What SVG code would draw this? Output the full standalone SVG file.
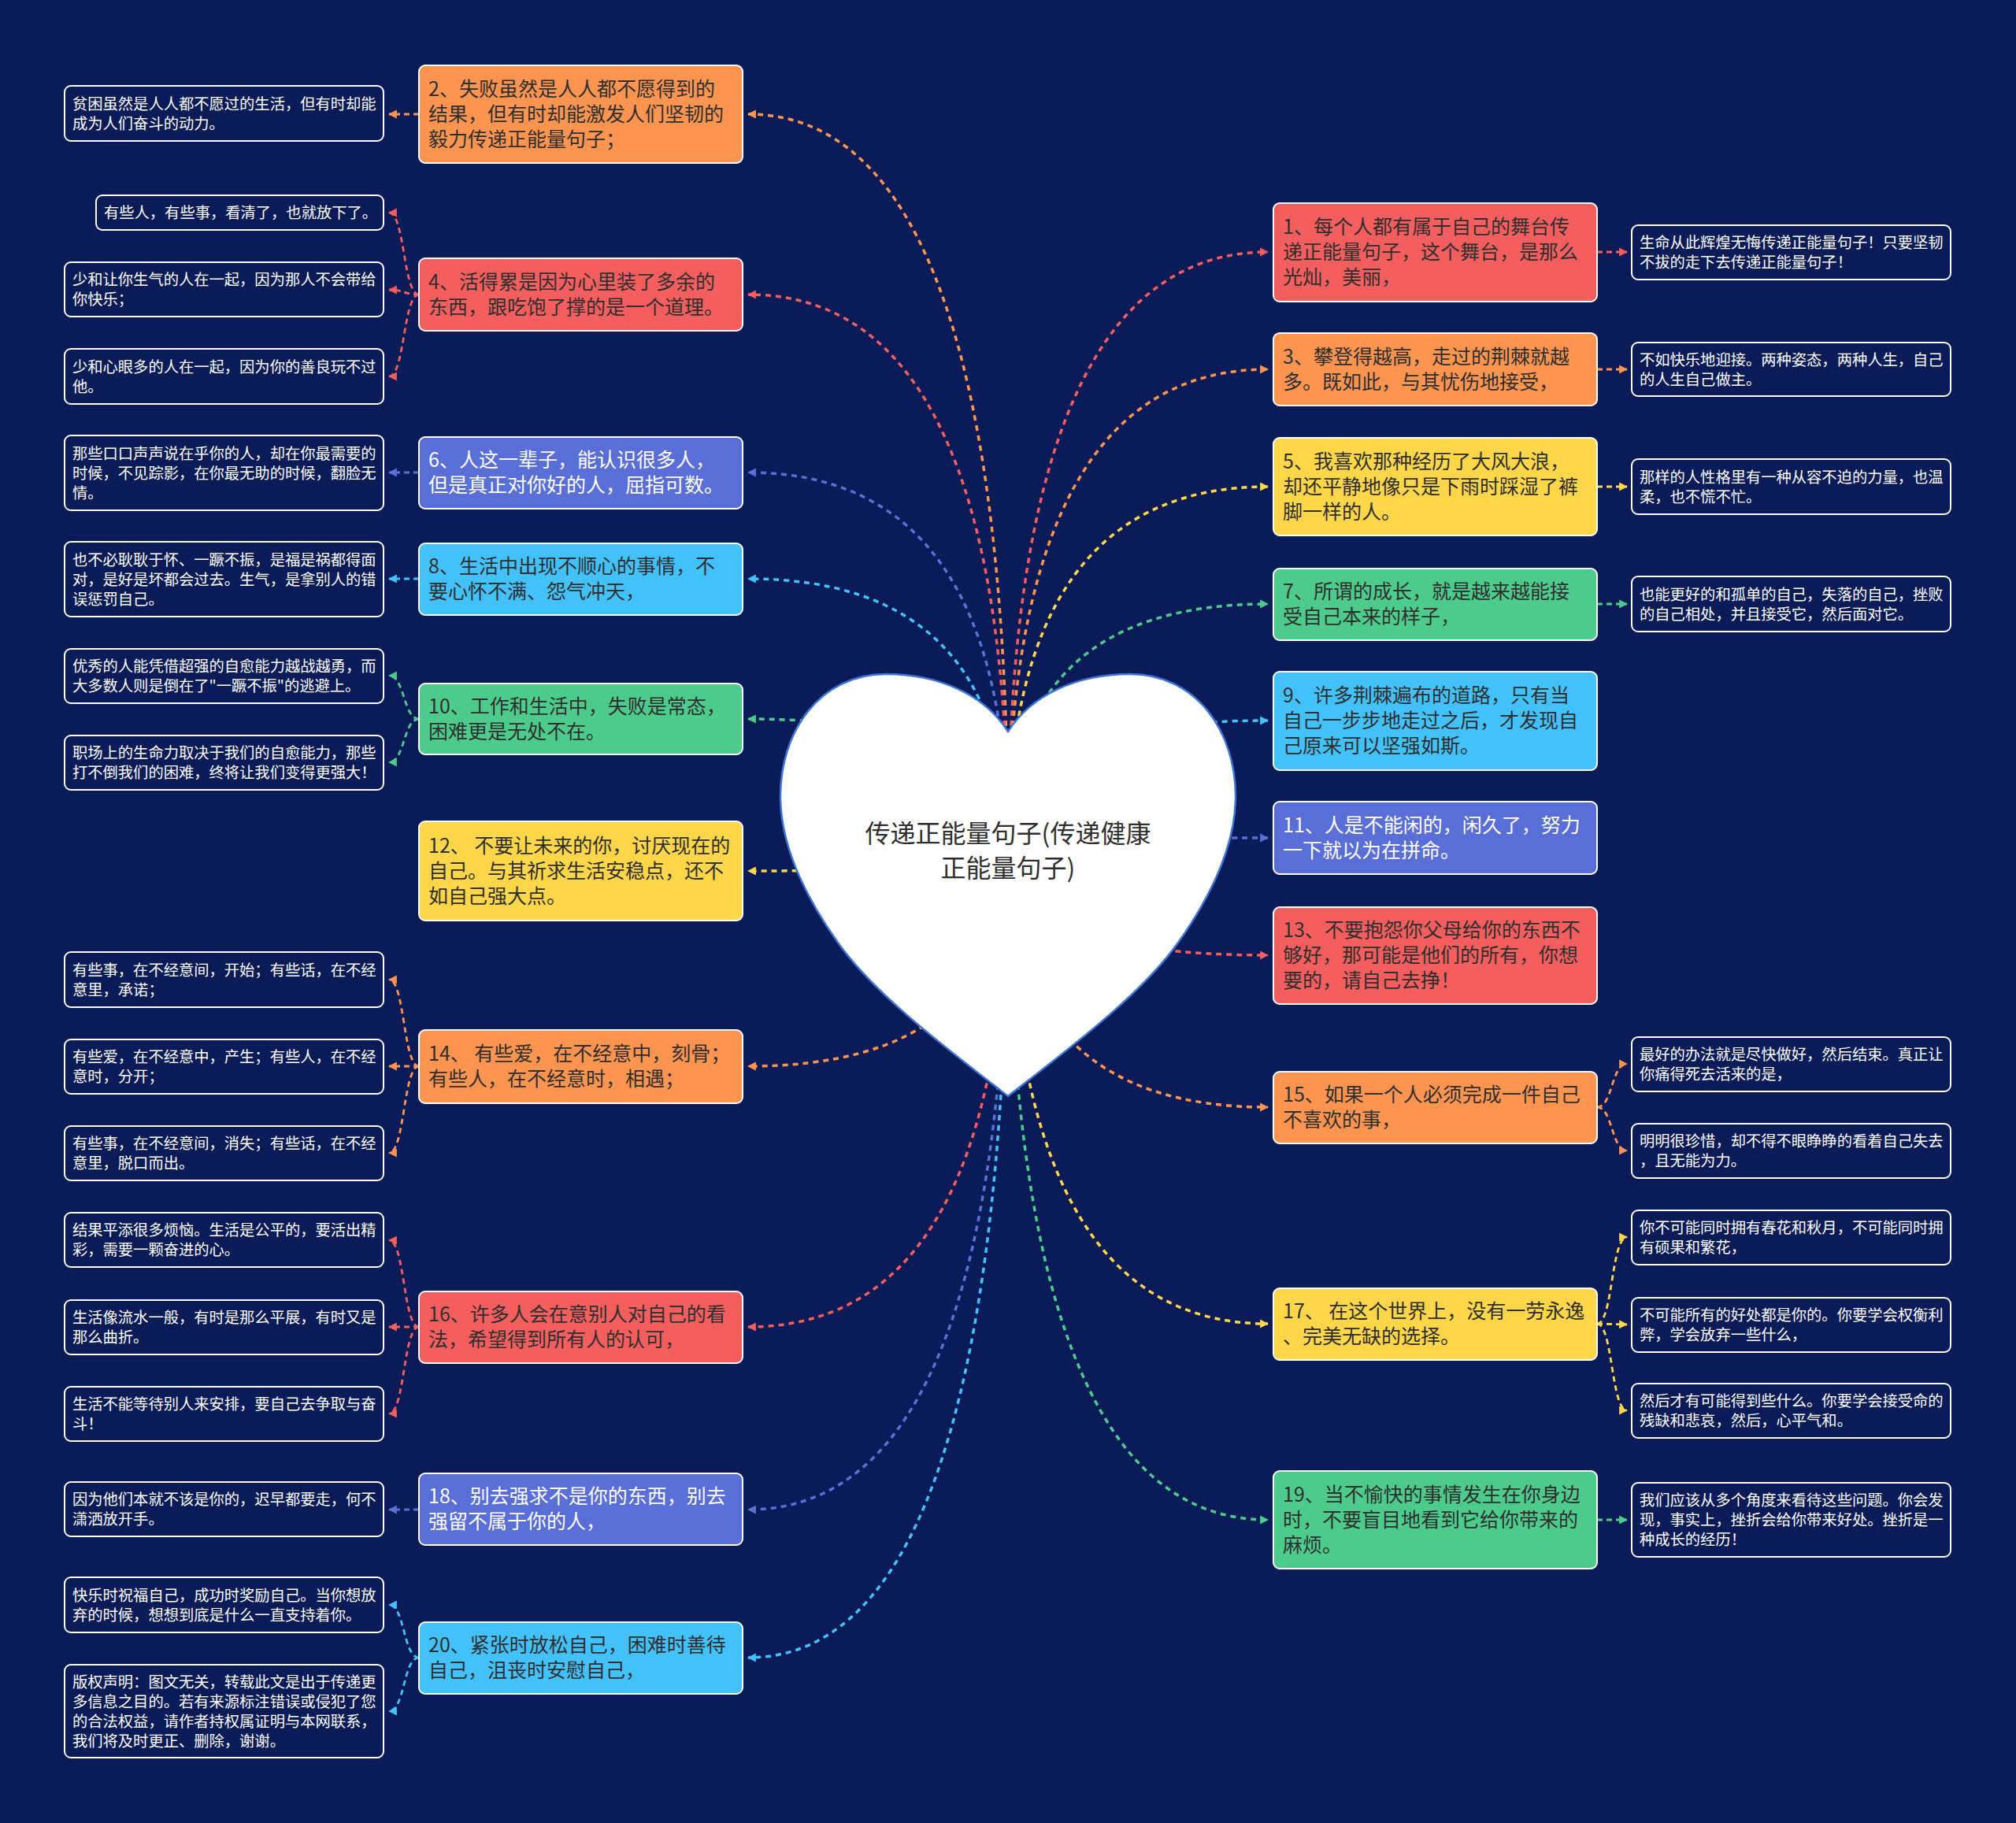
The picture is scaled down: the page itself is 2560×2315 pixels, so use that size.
<svg xmlns="http://www.w3.org/2000/svg" width="2560" height="2315" viewBox="0 0 2560 2315">
<style>
text{font-family:"Noto Sans CJK SC","Microsoft YaHei",sans-serif}
.mn{font-size:25px;fill:#2f2f2f}
.mw{font-size:25px;fill:#ffffff}
.lf{font-size:19.3px;fill:#ffffff}
.box{stroke:#ffffff;stroke-width:2}
.leaf rect{fill:#0a1b57;stroke:#ffffff;stroke-width:2}
.c{fill:none;stroke-width:3.5;stroke-dasharray:7 6}
.lc{fill:none;stroke-width:2.8;stroke-dasharray:7 5}
.red{stroke:#f45e5e}.ora{stroke:#fd9550}.yel{stroke:#fdd64a}.gre{stroke:#4dcb8c}.lbl{stroke:#43c1fb}.blu{stroke:#5a6ed7}
</style>
<defs>
<marker id="m-red" viewBox="0 0 10 10" refX="9" refY="5" markerWidth="11" markerHeight="12" markerUnits="userSpaceOnUse" orient="auto"><path d="M0,0L10,5L0,10z" fill="#f45e5e"/></marker>
<marker id="m-ora" viewBox="0 0 10 10" refX="9" refY="5" markerWidth="11" markerHeight="12" markerUnits="userSpaceOnUse" orient="auto"><path d="M0,0L10,5L0,10z" fill="#fd9550"/></marker>
<marker id="m-yel" viewBox="0 0 10 10" refX="9" refY="5" markerWidth="11" markerHeight="12" markerUnits="userSpaceOnUse" orient="auto"><path d="M0,0L10,5L0,10z" fill="#fdd64a"/></marker>
<marker id="m-gre" viewBox="0 0 10 10" refX="9" refY="5" markerWidth="11" markerHeight="12" markerUnits="userSpaceOnUse" orient="auto"><path d="M0,0L10,5L0,10z" fill="#4dcb8c"/></marker>
<marker id="m-lbl" viewBox="0 0 10 10" refX="9" refY="5" markerWidth="11" markerHeight="12" markerUnits="userSpaceOnUse" orient="auto"><path d="M0,0L10,5L0,10z" fill="#43c1fb"/></marker>
<marker id="m-blu" viewBox="0 0 10 10" refX="9" refY="5" markerWidth="11" markerHeight="12" markerUnits="userSpaceOnUse" orient="auto"><path d="M0,0L10,5L0,10z" fill="#5a6ed7"/></marker>
</defs>
<rect x="0" y="0" width="2560" height="2315" fill="#0a1b57"/>

<g id="connectors">
<path class="c ora" marker-end="url(#m-ora)" d="M1280 1078 Q1280 145 950 145"/>
<path class="c red" marker-end="url(#m-red)" d="M1280 1078 Q1280 374 950 374"/>
<path class="c blu" marker-end="url(#m-blu)" d="M1280 1078 Q1280 600 950 600"/>
<path class="c lbl" marker-end="url(#m-lbl)" d="M1280 1078 Q1280 735 950 735"/>
<path class="c gre" marker-end="url(#m-gre)" d="M1280 1078 Q1280 913 950 913"/>
<path class="c yel" marker-end="url(#m-yel)" d="M1280 1078 Q1280 1106 950 1106"/>
<path class="c ora" marker-end="url(#m-ora)" d="M1280 1078 Q1280 1354 950 1354"/>
<path class="c red" marker-end="url(#m-red)" d="M1280 1078 Q1280 1685 950 1685"/>
<path class="c blu" marker-end="url(#m-blu)" d="M1280 1078 Q1280 1917 950 1917"/>
<path class="c lbl" marker-end="url(#m-lbl)" d="M1280 1078 Q1280 2105 950 2105"/>
<path class="c red" marker-end="url(#m-red)" d="M1280 1078 Q1280 320 1610 320"/>
<path class="c ora" marker-end="url(#m-ora)" d="M1280 1078 Q1280 469 1610 469"/>
<path class="c yel" marker-end="url(#m-yel)" d="M1280 1078 Q1280 618 1610 618"/>
<path class="c gre" marker-end="url(#m-gre)" d="M1280 1078 Q1280 767 1610 767"/>
<path class="c lbl" marker-end="url(#m-lbl)" d="M1280 1078 Q1280 915 1610 915"/>
<path class="c blu" marker-end="url(#m-blu)" d="M1280 1078 Q1280 1064 1610 1064"/>
<path class="c red" marker-end="url(#m-red)" d="M1280 1078 Q1280 1213 1610 1213"/>
<path class="c ora" marker-end="url(#m-ora)" d="M1280 1078 Q1280 1406 1610 1406"/>
<path class="c yel" marker-end="url(#m-yel)" d="M1280 1078 Q1280 1681 1610 1681"/>
<path class="c gre" marker-end="url(#m-gre)" d="M1280 1078 Q1280 1930 1610 1930"/>
<path class="lc ora" marker-end="url(#m-ora)" d="M532 145 L494 145"/>
<path class="lc red" marker-end="url(#m-red)" d="M532 374 C512 374 514 270 494 270"/>
<path class="lc red" marker-end="url(#m-red)" d="M532 374 C512 374 514 368 494 368"/>
<path class="lc red" marker-end="url(#m-red)" d="M532 374 C512 374 514 478 494 478"/>
<path class="lc blu" marker-end="url(#m-blu)" d="M532 600 L494 600"/>
<path class="lc lbl" marker-end="url(#m-lbl)" d="M532 735 L494 735"/>
<path class="lc gre" marker-end="url(#m-gre)" d="M532 913 C512 913 514 858 494 858"/>
<path class="lc gre" marker-end="url(#m-gre)" d="M532 913 C512 913 514 968 494 968"/>
<path class="lc ora" marker-end="url(#m-ora)" d="M532 1354 C512 1354 514 1244 494 1244"/>
<path class="lc ora" marker-end="url(#m-ora)" d="M532 1354 L494 1354"/>
<path class="lc ora" marker-end="url(#m-ora)" d="M532 1354 C512 1354 514 1464 494 1464"/>
<path class="lc red" marker-end="url(#m-red)" d="M532 1685 C512 1685 514 1575 494 1575"/>
<path class="lc red" marker-end="url(#m-red)" d="M532 1685 L494 1685"/>
<path class="lc red" marker-end="url(#m-red)" d="M532 1685 C512 1685 514 1795 494 1795"/>
<path class="lc blu" marker-end="url(#m-blu)" d="M532 1917 L494 1917"/>
<path class="lc lbl" marker-end="url(#m-lbl)" d="M532 2105 C512 2105 514 2038 494 2038"/>
<path class="lc lbl" marker-end="url(#m-lbl)" d="M532 2105 C512 2105 514 2173 494 2173"/>
<path class="lc red" marker-end="url(#m-red)" d="M2028 320 L2066 320"/>
<path class="lc ora" marker-end="url(#m-ora)" d="M2028 469 L2066 469"/>
<path class="lc yel" marker-end="url(#m-yel)" d="M2028 618 L2066 618"/>
<path class="lc gre" marker-end="url(#m-gre)" d="M2028 767 L2066 767"/>
<path class="lc ora" marker-end="url(#m-ora)" d="M2028 1406 C2048 1406 2046 1351 2066 1351"/>
<path class="lc ora" marker-end="url(#m-ora)" d="M2028 1406 C2048 1406 2046 1461 2066 1461"/>
<path class="lc yel" marker-end="url(#m-yel)" d="M2028 1681 C2048 1681 2046 1571 2066 1571"/>
<path class="lc yel" marker-end="url(#m-yel)" d="M2028 1681 L2066 1682"/>
<path class="lc yel" marker-end="url(#m-yel)" d="M2028 1681 C2048 1681 2046 1791 2066 1791"/>
<path class="lc gre" marker-end="url(#m-gre)" d="M2028 1930 L2066 1930"/>
</g>

<g id="root">
<path d="M1280 929 C1250 882 1192 856 1125 856 C1040 856 991 930 991 1011 C991 1070 1020 1135 1064 1197 C1110 1262 1200 1330 1280 1392 C1360 1330 1450 1262 1496 1197 C1540 1135 1569 1070 1569 1011 C1569 930 1520 856 1435 856 C1368 856 1310 882 1280 929 Z" fill="#ffffff" stroke="#3f74d6" stroke-width="2.5"/>
<text x="1280" y="1070" text-anchor="middle" style="font-size:32px;fill:#2f2f2f">传递正能量句子(传递健康</text>
<text x="1280" y="1114" text-anchor="middle" style="font-size:32px;fill:#2f2f2f">正能量句子)</text>
</g>

<g id="n2"><rect class="box" x="532" y="83" width="411" height="124" rx="8" fill="#fd9550"/>
<text class="mn" x="544" y="122">2、失败虽然是人人都不愿得到的</text><text class="mn" x="544" y="154">结果，但有时却能激发人们坚韧的</text><text class="mn" x="544" y="186">毅力传递正能量句子；</text></g>
<g id="n4"><rect class="box" x="532" y="328" width="411" height="92" rx="8" fill="#f45e5e"/>
<text class="mn" x="544" y="367">4、活得累是因为心里装了多余的</text><text class="mn" x="544" y="399">东西，跟吃饱了撑的是一个道理。</text></g>
<g id="n6"><rect class="box" x="532" y="555" width="411" height="91" rx="8" fill="#5a6ed7"/>
<text class="mw" x="544" y="593">6、人这一辈子，能认识很多人，</text><text class="mw" x="544" y="625">但是真正对你好的人，屈指可数。</text></g>
<g id="n8"><rect class="box" x="532" y="690" width="411" height="91" rx="8" fill="#43c1fb"/>
<text class="mn" x="544" y="728">8、生活中出现不顺心的事情，不</text><text class="mn" x="544" y="760">要心怀不满、怨气冲天，</text></g>
<g id="n10"><rect class="box" x="532" y="868" width="411" height="90" rx="8" fill="#4dcb8c"/>
<text class="mn" x="544" y="906">10、工作和生活中，失败是常态，</text><text class="mn" x="544" y="938">困难更是无处不在。</text></g>
<g id="n12"><rect class="box" x="532" y="1043" width="411" height="126" rx="8" fill="#fdd64a"/>
<text class="mn" x="544" y="1083">12、 不要让未来的你，讨厌现在的</text><text class="mn" x="544" y="1115">自己。与其祈求生活安稳点，还不</text><text class="mn" x="544" y="1147">如自己强大点。</text></g>
<g id="n14"><rect class="box" x="532" y="1308" width="411" height="93" rx="8" fill="#fd9550"/>
<text class="mn" x="544" y="1347">14、 有些爱，在不经意中，刻骨；</text><text class="mn" x="544" y="1379">有些人，在不经意时，相遇；</text></g>
<g id="n16"><rect class="box" x="532" y="1640" width="411" height="91" rx="8" fill="#f45e5e"/>
<text class="mn" x="544" y="1678">16、许多人会在意别人对自己的看</text><text class="mn" x="544" y="1710">法，希望得到所有人的认可，</text></g>
<g id="n18"><rect class="box" x="532" y="1871" width="411" height="91" rx="8" fill="#5a6ed7"/>
<text class="mw" x="544" y="1909">18、别去强求不是你的东西，别去</text><text class="mw" x="544" y="1941">强留不属于你的人，</text></g>
<g id="n20"><rect class="box" x="532" y="2060" width="411" height="91" rx="8" fill="#43c1fb"/>
<text class="mn" x="544" y="2098">20、紧张时放松自己，困难时善待</text><text class="mn" x="544" y="2130">自己，沮丧时安慰自己，</text></g>

<g id="n1"><rect class="box" x="1617" y="258" width="411" height="125" rx="8" fill="#f45e5e"/>
<text class="mn" x="1629" y="297">1、每个人都有属于自己的舞台传</text><text class="mn" x="1629" y="329">递正能量句子，这个舞台，是那么</text><text class="mn" x="1629" y="361">光灿，美丽，</text></g>
<g id="n3"><rect class="box" x="1617" y="423" width="411" height="92" rx="8" fill="#fd9550"/>
<text class="mn" x="1629" y="462">3、攀登得越高，走过的荆棘就越</text><text class="mn" x="1629" y="494">多。既如此，与其忧伤地接受，</text></g>
<g id="n5"><rect class="box" x="1617" y="556" width="411" height="124" rx="8" fill="#fdd64a"/>
<text class="mn" x="1629" y="595">5、我喜欢那种经历了大风大浪，</text><text class="mn" x="1629" y="627">却还平静地像只是下雨时踩湿了裤</text><text class="mn" x="1629" y="659">脚一样的人。</text></g>
<g id="n7"><rect class="box" x="1617" y="722" width="411" height="91" rx="8" fill="#4dcb8c"/>
<text class="mn" x="1629" y="760">7、所谓的成长，就是越来越能接</text><text class="mn" x="1629" y="792">受自己本来的样子，</text></g>
<g id="n9"><rect class="box" x="1617" y="853" width="411" height="125" rx="8" fill="#43c1fb"/>
<text class="mn" x="1629" y="892">9、许多荆棘遍布的道路，只有当</text><text class="mn" x="1629" y="924">自己一步步地走过之后，才发现自</text><text class="mn" x="1629" y="956">己原来可以坚强如斯。</text></g>
<g id="n11"><rect class="box" x="1617" y="1018" width="411" height="92" rx="8" fill="#5a6ed7"/>
<text class="mw" x="1629" y="1057">11、人是不能闲的，闲久了，努力</text><text class="mw" x="1629" y="1089">一下就以为在拼命。</text></g>
<g id="n13"><rect class="box" x="1617" y="1152" width="411" height="123" rx="8" fill="#f45e5e"/>
<text class="mn" x="1629" y="1190">13、不要抱怨你父母给你的东西不</text><text class="mn" x="1629" y="1222">够好，那可能是他们的所有，你想</text><text class="mn" x="1629" y="1254">要的，请自己去挣！</text></g>
<g id="n15"><rect class="box" x="1617" y="1361" width="411" height="91" rx="8" fill="#fd9550"/>
<text class="mn" x="1629" y="1399">15、如果一个人必须完成一件自己</text><text class="mn" x="1629" y="1431">不喜欢的事，</text></g>
<g id="n17"><rect class="box" x="1617" y="1636" width="411" height="91" rx="8" fill="#fdd64a"/>
<text class="mn" x="1629" y="1674">17、 在这个世界上，没有一劳永逸</text><text class="mn" x="1629" y="1706">、完美无缺的选择。</text></g>
<g id="n19"><rect class="box" x="1617" y="1868" width="411" height="124" rx="8" fill="#4dcb8c"/>
<text class="mn" x="1629" y="1907">19、当不愉快的事情发生在你身边</text><text class="mn" x="1629" y="1939">时，不要盲目地看到它给你带来的</text><text class="mn" x="1629" y="1971">麻烦。</text></g>

<g id="l2" class="leaf"><rect x="82" y="109" width="405" height="70" rx="8"/>
<text class="lf" x="92" y="138.5">贫困虽然是人人都不愿过的生活，但有时却能</text><text class="lf" x="92" y="163.5">成为人们奋斗的动力。</text></g>
<g id="l4a" class="leaf"><rect x="122" y="248" width="365" height="44" rx="8"/>
<text class="lf" x="132" y="277">有些人，有些事，看清了，也就放下了。</text></g>
<g id="l4b" class="leaf"><rect x="82" y="333" width="405" height="69" rx="8"/>
<text class="lf" x="92" y="362">少和让你生气的人在一起，因为那人不会带给</text><text class="lf" x="92" y="387">你快乐；</text></g>
<g id="l4c" class="leaf"><rect x="82" y="443" width="405" height="70" rx="8"/>
<text class="lf" x="92" y="472.5">少和心眼多的人在一起，因为你的善良玩不过</text><text class="lf" x="92" y="497.5">他。</text></g>
<g id="l6" class="leaf"><rect x="82" y="553" width="405" height="95" rx="8"/>
<text class="lf" x="92" y="582.5">那些口口声声说在乎你的人，却在你最需要的</text><text class="lf" x="92" y="607.5">时候，不见踪影，在你最无助的时候，翻脸无</text><text class="lf" x="92" y="632.5">情。</text></g>
<g id="l8" class="leaf"><rect x="82" y="688" width="405" height="95" rx="8"/>
<text class="lf" x="92" y="717.5">也不必耿耿于怀、一蹶不振，是福是祸都得面</text><text class="lf" x="92" y="742.5">对，是好是坏都会过去。生气，是拿别人的错</text><text class="lf" x="92" y="767.5">误惩罚自己。</text></g>
<g id="l10a" class="leaf"><rect x="82" y="824" width="405" height="69" rx="8"/>
<text class="lf" x="92" y="853">优秀的人能凭借超强的自愈能力越战越勇，而</text><text class="lf" x="92" y="878">大多数人则是倒在了"一蹶不振"的逃避上。</text></g>
<g id="l10b" class="leaf"><rect x="82" y="934" width="405" height="69" rx="8"/>
<text class="lf" x="92" y="963">职场上的生命力取决于我们的自愈能力，那些</text><text class="lf" x="92" y="988">打不倒我们的困难，终将让我们变得更强大！</text></g>
<g id="l14a" class="leaf"><rect x="82" y="1209" width="405" height="70" rx="8"/>
<text class="lf" x="92" y="1238.5">有些事，在不经意间，开始；有些话，在不经</text><text class="lf" x="92" y="1263.5">意里，承诺；</text></g>
<g id="l14b" class="leaf"><rect x="82" y="1320" width="405" height="69" rx="8"/>
<text class="lf" x="92" y="1349">有些爱，在不经意中，产生；有些人，在不经</text><text class="lf" x="92" y="1374">意时，分开；</text></g>
<g id="l14c" class="leaf"><rect x="82" y="1430" width="405" height="69" rx="8"/>
<text class="lf" x="92" y="1459">有些事，在不经意间，消失；有些话，在不经</text><text class="lf" x="92" y="1484">意里，脱口而出。</text></g>
<g id="l16a" class="leaf"><rect x="82" y="1540" width="405" height="69" rx="8"/>
<text class="lf" x="92" y="1569">结果平添很多烦恼。生活是公平的，要活出精</text><text class="lf" x="92" y="1594">彩，需要一颗奋进的心。</text></g>
<g id="l16b" class="leaf"><rect x="82" y="1651" width="405" height="69" rx="8"/>
<text class="lf" x="92" y="1680">生活像流水一般，有时是那么平展，有时又是</text><text class="lf" x="92" y="1705">那么曲折。</text></g>
<g id="l16c" class="leaf"><rect x="82" y="1761" width="405" height="69" rx="8"/>
<text class="lf" x="92" y="1790">生活不能等待别人来安排，要自己去争取与奋</text><text class="lf" x="92" y="1815">斗！</text></g>
<g id="l18" class="leaf"><rect x="82" y="1882" width="405" height="69" rx="8"/>
<text class="lf" x="92" y="1911">因为他们本就不该是你的，迟早都要走，何不</text><text class="lf" x="92" y="1936">潇洒放开手。</text></g>
<g id="l20a" class="leaf"><rect x="82" y="2003" width="405" height="70" rx="8"/>
<text class="lf" x="92" y="2032.5">快乐时祝福自己，成功时奖励自己。当你想放</text><text class="lf" x="92" y="2057.5">弃的时候，想想到底是什么一直支持着你。</text></g>
<g id="l20b" class="leaf"><rect x="82" y="2114" width="405" height="118" rx="8"/>
<text class="lf" x="92" y="2142.5">版权声明：图文无关，转载此文是出于传递更</text><text class="lf" x="92" y="2167.5">多信息之目的。若有来源标注错误或侵犯了您</text><text class="lf" x="92" y="2192.5">的合法权益，请作者持权属证明与本网联系，</text><text class="lf" x="92" y="2217.5">我们将及时更正、删除，谢谢。</text></g>

<g id="r1" class="leaf"><rect x="2072" y="286" width="405" height="69" rx="8"/>
<text class="lf" x="2082" y="315">生命从此辉煌无悔传递正能量句子！只要坚韧</text><text class="lf" x="2082" y="340">不拔的走下去传递正能量句子！</text></g>
<g id="r3" class="leaf"><rect x="2072" y="435" width="405" height="68" rx="8"/>
<text class="lf" x="2082" y="463.5">不如快乐地迎接。两种姿态，两种人生，自己</text><text class="lf" x="2082" y="488.5">的人生自己做主。</text></g>
<g id="r5" class="leaf"><rect x="2072" y="583" width="405" height="70" rx="8"/>
<text class="lf" x="2082" y="612.5">那样的人性格里有一种从容不迫的力量，也温</text><text class="lf" x="2082" y="637.5">柔，也不慌不忙。</text></g>
<g id="r7" class="leaf"><rect x="2072" y="732" width="405" height="70" rx="8"/>
<text class="lf" x="2082" y="761.5">也能更好的和孤单的自己，失落的自己，挫败</text><text class="lf" x="2082" y="786.5">的自己相处，并且接受它，然后面对它。</text></g>
<g id="r15a" class="leaf"><rect x="2072" y="1317" width="405" height="69" rx="8"/>
<text class="lf" x="2082" y="1346">最好的办法就是尽快做好，然后结束。真正让</text><text class="lf" x="2082" y="1371">你痛得死去活来的是，</text></g>
<g id="r15b" class="leaf"><rect x="2072" y="1427" width="405" height="69" rx="8"/>
<text class="lf" x="2082" y="1456">明明很珍惜，却不得不眼睁睁的看着自己失去</text><text class="lf" x="2082" y="1481">，且无能为力。</text></g>
<g id="r17a" class="leaf"><rect x="2072" y="1537" width="405" height="69" rx="8"/>
<text class="lf" x="2082" y="1566">你不可能同时拥有春花和秋月，不可能同时拥</text><text class="lf" x="2082" y="1591">有硕果和繁花，</text></g>
<g id="r17b" class="leaf"><rect x="2072" y="1648" width="405" height="69" rx="8"/>
<text class="lf" x="2082" y="1677">不可能所有的好处都是你的。你要学会权衡利</text><text class="lf" x="2082" y="1702">弊，学会放弃一些什么，</text></g>
<g id="r17c" class="leaf"><rect x="2072" y="1757" width="405" height="69" rx="8"/>
<text class="lf" x="2082" y="1786">然后才有可能得到些什么。你要学会接受命的</text><text class="lf" x="2082" y="1811">残缺和悲哀，然后，心平气和。</text></g>
<g id="r19" class="leaf"><rect x="2072" y="1883" width="405" height="94" rx="8"/>
<text class="lf" x="2082" y="1912">我们应该从多个角度来看待这些问题。你会发</text><text class="lf" x="2082" y="1937">现，事实上，挫折会给你带来好处。挫折是一</text><text class="lf" x="2082" y="1962">种成长的经历！</text></g>
</svg>
